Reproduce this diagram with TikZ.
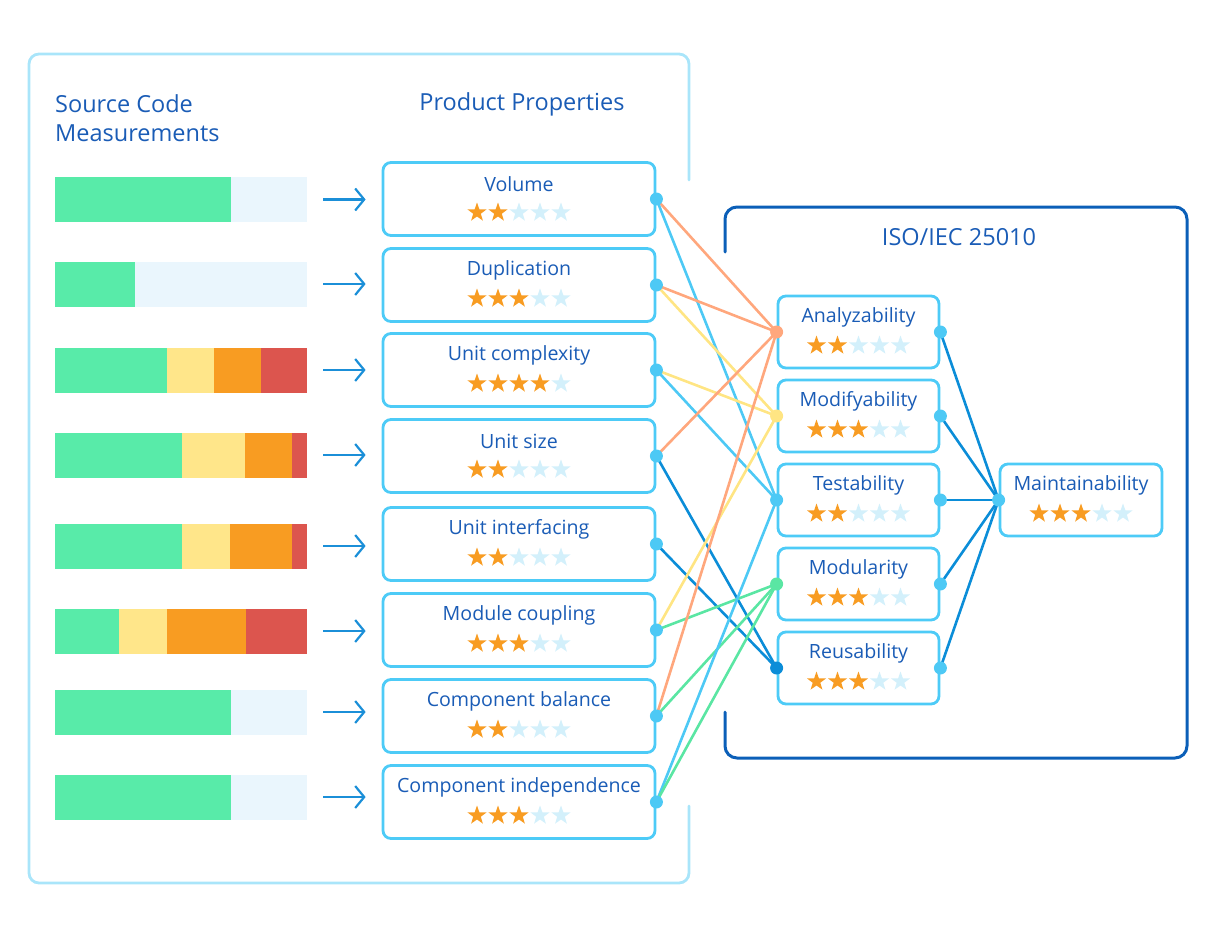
\documentclass[tikz,border=0pt]{standalone}
\usepackage{fontspec}
\setmainfont{Open Sans}
\usetikzlibrary{shapes.geometric,arrows.meta}
\definecolor{txt}{HTML}{1A5CB6}
\definecolor{nodeb}{HTML}{4DCBF7}
\definecolor{lboxc}{HTML}{A9E5FA}
\definecolor{isoc}{HTML}{0B5FB8}
\definecolor{lorange}{HTML}{FFA77D}
\definecolor{lyellow}{HTML}{FFE583}
\definecolor{llblue}{HTML}{4DC9F5}
\definecolor{ldblue}{HTML}{0B8DD8}
\definecolor{lgreen}{HTML}{5AE6A3}
\definecolor{arrc}{HTML}{1B8FD8}
\definecolor{bgreen}{HTML}{58EBA9}
\definecolor{byellow}{HTML}{FFE68A}
\definecolor{borange}{HTML}{F89C22}
\definecolor{bred}{HTML}{DC554E}
\definecolor{blight}{HTML}{EAF6FD}
\definecolor{sfull}{HTML}{F89C22}
\definecolor{sempty}{HTML}{D3F0FB}
\tikzset{
  boxn/.style={draw=nodeb, line width=2.8pt, rounded corners=8pt, fill=white, inner sep=0pt},
  lbl/.style={text=txt, font=\fontsize{19.6}{23}\selectfont, inner sep=0pt},
  head/.style={text=txt, font=\fontsize{23.5}{28}\selectfont, inner sep=0pt},
  starn/.style={star, star points=5, star point ratio=2.5, minimum size=20pt, inner sep=0pt, draw=none},
  barn/.style={minimum width=252pt, minimum height=45pt, inner sep=0pt, draw=none},
  arr/.style={draw=arrc, line width=2.4pt, -{Straight Barb[length=9pt,width=22pt,line width=2.2pt]}, shorten <=16pt, shorten >=16pt},
  conn/.style={line width=2.6pt},
}
\newcommand{\rnode}[7]{% name, x, y, width, height, text, stars
  \node[boxn, minimum width=#4pt, minimum height=#5pt] (#1) at (#2,#3) {};
  \node[lbl] (#1-t) at (#2,#3-14.5) {#6};
  \foreach \k in {1,...,5}{%
    \ifnum\k>#7\relax\def\sc{sempty}\else\def\sc{sfull}\fi
    \node[starn, fill=\sc] (#1-s\k) at ({#2+(\k-3)*21},{#3+13.5}) {};
  }
}
\newcommand{\mbar}[6]{% name, y, green end, yellow end, orange end, red? (light if 0)
  \node[barn] (#1) at (181,#2) {};
  \fill[bgreen] (55,#2-22.5) rectangle (#3,#2+22.5);
  \ifnum#6=0
    \fill[blight] (#3,#2-22.5) rectangle (307,#2+22.5);
  \else
    \fill[byellow] (#3,#2-22.5) rectangle (#4,#2+22.5);
    \fill[borange] (#4,#2-22.5) rectangle (#5,#2+22.5);
    \fill[bred] (#5,#2-22.5) rectangle (307,#2+22.5);
  \fi
}
\begin{document}
\begin{tikzpicture}[x=1pt,y=-1pt]
\useasboundingbox (0,0) rectangle (1223,948);
% frames
\draw[draw=lboxc, line width=2.8pt, rounded corners=10pt, line cap=round]
  (689,180) -- (689,54) -- (29,54) -- (29,883) -- (689,883) -- (689,806);
\draw[draw=isoc, line width=3pt, rounded corners=12pt, line cap=round]
  (725,252) -- (725,207) -- (1187,207) -- (1187,758) -- (725,758) -- (725,712);
% headings
\node[head, anchor=west] (h1) at (55,104) {Source Code};
\node[head, anchor=west] (h2) at (55,133) {Measurements};
\node[head] (h3) at (522,104) {Product Properties};
\node[head] (h4) at (959,237) {ISO/IEC 25010};
% bars
\mbar{b1}{199.5}{231}{0}{0}{0}
\mbar{b2}{284}{135}{0}{0}{0}
\mbar{b3}{370}{167}{214}{261}{1}
\mbar{b4}{455}{182}{245}{292}{1}
\mbar{b5}{546}{182}{230}{292}{1}
\mbar{b6}{631}{119}{167}{246}{1}
\mbar{b7}{712}{231}{0}{0}{0}
\mbar{b8}{797}{231}{0}{0}{0}
% property nodes
\rnode{p1}{519}{199}{272}{73}{Volume}{2}
\rnode{p2}{519}{285}{272}{73}{Duplication}{3}
\rnode{p3}{519}{370}{272}{73}{Unit complexity}{4}
\rnode{p4}{519}{456}{272}{73}{Unit size}{2}
\rnode{p5}{519}{544}{272}{73}{Unit interfacing}{2}
\rnode{p6}{519}{630}{272}{73}{Module coupling}{3}
\rnode{p7}{519}{716}{272}{73}{Component balance}{2}
\rnode{p8}{519}{802}{272}{73}{Component independence}{3}
% arrows
\foreach \i in {1,...,8}{\draw[arr] (b\i.east) -- (b\i.east -| p\i.west);}
% ISO nodes
\rnode{an}{858.5}{332}{161}{72}{Analyzability}{2}
\rnode{mo}{858.5}{416}{161}{72}{Modifyability}{3}
\rnode{te}{858.5}{500}{161}{72}{Testability}{2}
\rnode{md}{858.5}{584}{161}{72}{Modularity}{3}
\rnode{re}{858.5}{668}{161}{72}{Reusability}{3}
\rnode{ma}{1081}{500}{162}{72}{Maintainability}{3}
% connectors
\draw[conn, lorange] (p1.east) -- (an.west);
\draw[conn, llblue] (p1.east) -- (te.west);
\draw[conn, lorange] (p2.east) -- (an.west);
\draw[conn, lyellow] (p2.east) -- (mo.west);
\draw[conn, lyellow] (p3.east) -- (mo.west);
\draw[conn, llblue] (p3.east) -- (te.west);
\draw[conn, lorange] (p4.east) -- (an.west);
\draw[conn, ldblue] (p4.east) -- (re.west);
\draw[conn, ldblue] (p5.east) -- (re.west);
\draw[conn, lyellow] (p6.east) -- (mo.west);
\draw[conn, lgreen] (p6.east) -- (md.west);
\draw[conn, lorange] (p7.east) -- (an.west);
\draw[conn, lgreen] (p7.east) -- (md.west);
\draw[conn, llblue] (p8.east) -- (te.west);
\draw[conn, lgreen] (p8.east) -- (md.west);
\foreach \n in {an,mo,te,md,re}{\draw[conn, ldblue] (\n.east) -- (ma.west);}
% dots
\foreach \i in {1,...,8}{\fill[llblue] (p\i.east) circle (6.5pt);}
\fill[lorange] (an.west) circle (6.5pt);
\fill[lyellow] (mo.west) circle (6.5pt);
\fill[llblue] (te.west) circle (6.5pt);
\fill[lgreen] (md.west) circle (6.5pt);
\fill[ldblue] (re.west) circle (6.5pt);
\foreach \n in {an,mo,te,md,re}{\fill[llblue] (\n.east) circle (6.5pt);}
\fill[llblue] (ma.west) circle (6.5pt);
\end{tikzpicture}
\end{document}
